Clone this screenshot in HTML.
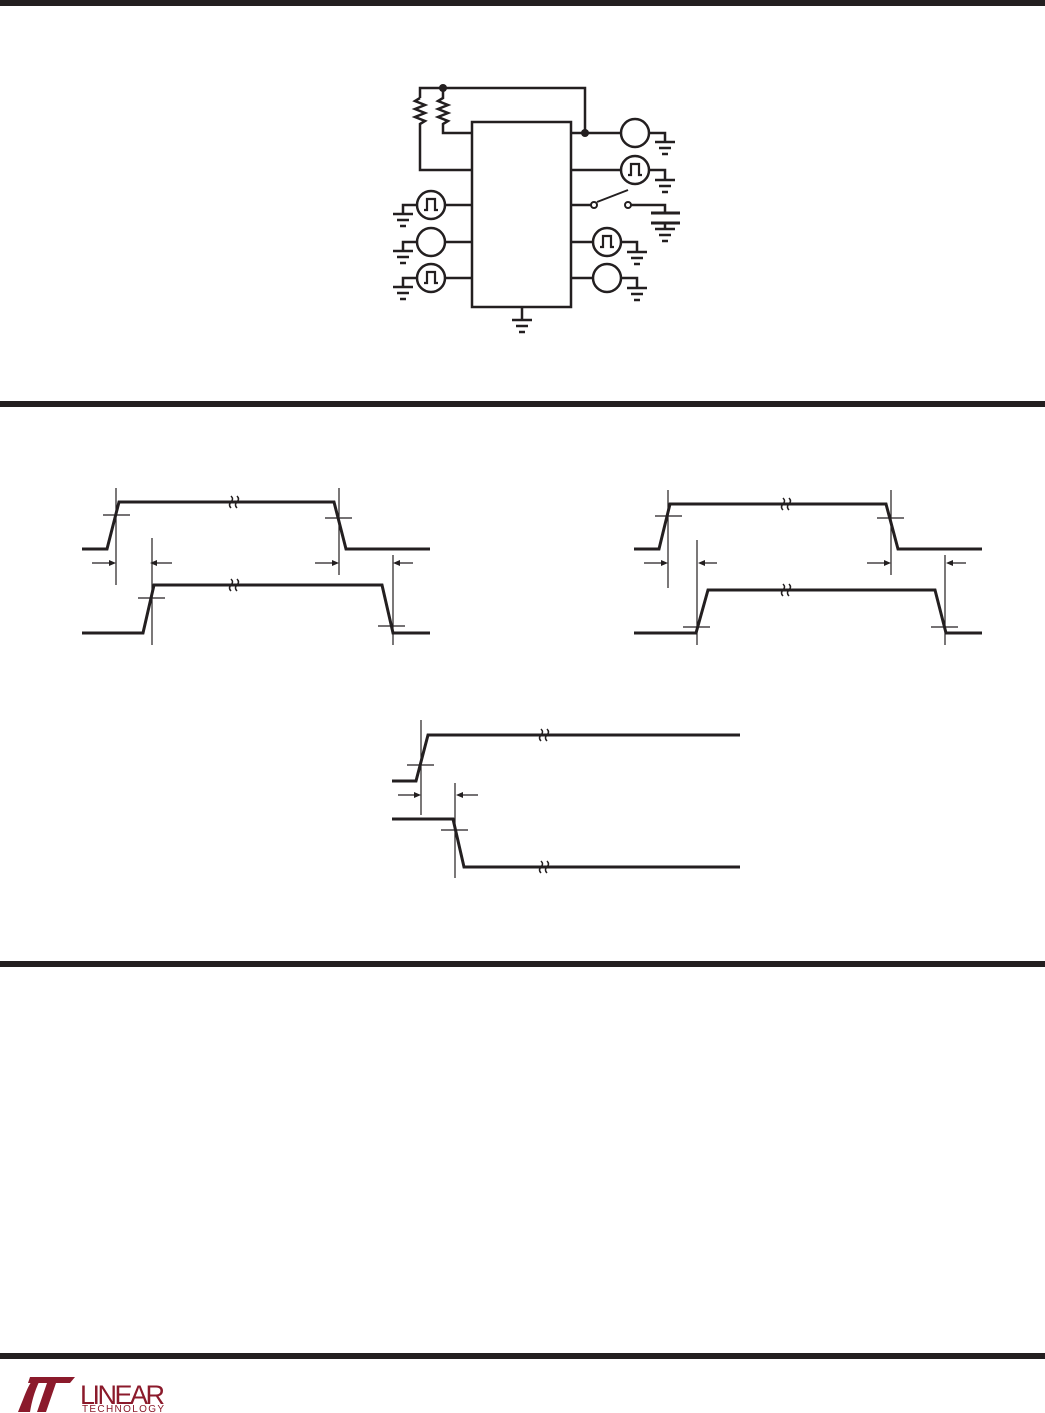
<!DOCTYPE html>
<html><head><style>body{margin:0;background:#fff}svg{display:block}</style></head><body>
<svg width="1045" height="1413" viewBox="0 0 1045 1413" xmlns="http://www.w3.org/2000/svg">
<g fill="#231f20"><rect x="0" y="0" width="1045" height="6"/><rect x="0" y="401" width="1045" height="6"/><rect x="0" y="961" width="1045" height="6"/><rect x="0" y="1353" width="1045" height="6"/></g>
<defs>
<g id="gnd" stroke="#231f20" stroke-width="2.5"><line x1="-10" y1="0" x2="10" y2="0"/><line x1="-6" y1="6" x2="6" y2="6"/><line x1="-3" y1="12" x2="3" y2="12"/></g>
<g id="pulse" fill="none" stroke="#231f20" stroke-width="2.2"><path d="M-7 5 H-4 V-6 H4 V5 H7"/></g>
<g id="brk" fill="none" stroke="#231f20" stroke-width="1.5"><path d="M-3 -6 q3 3 0 6 q-3 3 0 6 M3 -6 q3 3 0 6 q-3 3 0 6"/></g>
</defs>
<g fill="none" stroke="#231f20" stroke-width="2.5">
<rect x="472" y="122" width="99" height="185"/>
<path d="M420 98 V88 H585 V133"/>
<path d="M443 88 V98 l-5 3 l10 4 l-10 4 l10 4 l-10 4 l10 4 l-5 3 V133 H472"/>
<path d="M420 98 l-5 3 l10 4 l-10 4 l10 4 l-10 4 l10 4 l-5 3 V170 H472"/>
<path d="M571 133 H621 M649 133 H665 V142"/>
<circle cx="635" cy="133" r="14"/>
<path d="M571 170 H621 M649 170 H665 V180"/>
<circle cx="635" cy="170" r="14"/>
<path d="M571 205 H591 M631 205 H665 V213"/>
<circle cx="594" cy="205" r="3" stroke-width="2"/><circle cx="628" cy="205" r="3" stroke-width="2"/>
<line x1="597" y1="202" x2="628" y2="190" stroke-width="2"/>
<line x1="651" y1="213" x2="680" y2="213" stroke-width="3"/><line x1="651" y1="223" x2="680" y2="223" stroke-width="3"/>
<path d="M665 223 V229"/>
<path d="M571 242 H593 M621 242 H637 V252"/>
<circle cx="607" cy="242" r="14"/>
<path d="M571 278 H593 M621 278 H637 V288"/>
<circle cx="607" cy="278" r="14"/>
<path d="M472 205 H445 M417 205 H403 V214"/><circle cx="431" cy="205" r="14"/>
<path d="M472 242 H445 M417 242 H403 V251"/><circle cx="431" cy="242" r="14"/>
<path d="M472 278 H445 M417 278 H403 V287"/><circle cx="431" cy="278" r="14"/>
<path d="M522 307 V320"/>
</g>
<circle cx="443" cy="88" r="4" fill="#231f20"/><circle cx="585" cy="133" r="4" fill="#231f20"/>
<use href="#gnd" x="665" y="142"/><use href="#gnd" x="665" y="180"/><use href="#gnd" x="665" y="229"/>
<use href="#gnd" x="637" y="252"/><use href="#gnd" x="637" y="288"/>
<use href="#gnd" x="403" y="214"/><use href="#gnd" x="403" y="251"/><use href="#gnd" x="403" y="287"/>
<use href="#gnd" x="522" y="320"/>
<use href="#pulse" x="635" y="170"/><use href="#pulse" x="607" y="242"/><use href="#pulse" x="431" y="205"/><use href="#pulse" x="431" y="278"/>

<g fill="none" stroke="#231f20" stroke-width="3">
<path d="M82 549 H107 L119 502 H334 L346 549 H430"/>
<path d="M82 633 H143 L154 585 H382 L393 633 H430"/>
<path d="M634 549 H659 L670 504 H886 L898 549 H982"/>
<path d="M634 633 H696 L708 590 H935 L946 633 H982"/>
<path d="M392 781 H416 L428 735 H740"/>
<path d="M392 819 H453 L464 867 H740"/>
</g>
<g stroke="#231f20" stroke-width="1.2" fill="none">
<path d="M116 488 V585 M339 488 V575 M152 538 V645 M393 555 V645"/>
<path d="M103 515 H130 M325 518 H352 M138 598 H165 M378 626 H405"/>
<path d="M668 490 V588 M891 490 V575 M697 540 V645 M945 555 V645"/>
<path d="M655 516 H682 M877 518 H904 M683 627 H710 M931 627 H958"/>
<path d="M421 720 V815 M455 783 V878 M407 765 H434 M441 830 H468"/>
<path d="M92 563 H114 M155 563 H172 M315 563 H337 M395 563 H413"/>
<path d="M644 563 H666 M700 563 H717 M867 563 H889 M948 563 H966"/>
<path d="M398 795 H419 M458 795 H478"/>
</g>
<g fill="#231f20">
<path d="M116 563 l-7 -3 v6z M150 563 l7 -3 v6z M339 563 l-7 -3 v6z M393 563 l7 -3 v6z"/>
<path d="M668 563 l-7 -3 v6z M698 563 l7 -3 v6z M891 563 l-7 -3 v6z M946 563 l7 -3 v6z"/>
<path d="M421 795 l-7 -3 v6z M456 795 l7 -3 v6z"/>
</g>
<use href="#brk" x="234" y="502"/><use href="#brk" x="234" y="585"/>
<use href="#brk" x="786" y="504"/><use href="#brk" x="786" y="590"/>
<use href="#brk" x="544" y="735"/><use href="#brk" x="544" y="867"/>
<g fill="#8b1a2b">
<path d="M18 1412 C25 1395 28 1385 33 1380 L40 1380 C35 1390 32 1400 30 1412 Z"/>
<path d="M30 1377 H75 L70 1383 H56 L46 1412 H37 L47 1383 H28 Z"/>
<text x="80" y="1404" font-family="Liberation Sans, sans-serif" font-size="27" letter-spacing="-1" textLength="84">LINEAR</text>
<text x="82" y="1412" font-family="Liberation Sans, sans-serif" font-size="10" textLength="82">TECHNOLOGY</text>
</g>
</svg>
</body></html>
